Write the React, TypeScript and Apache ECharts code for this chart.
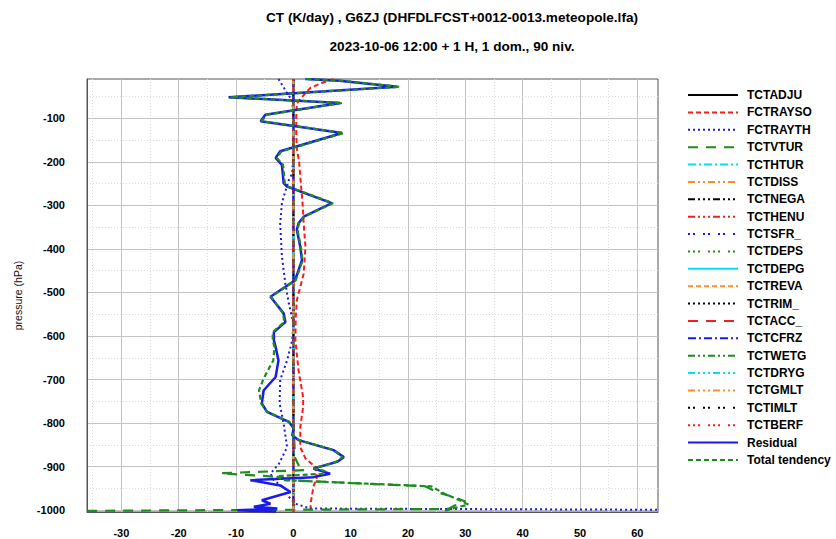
import React, { useEffect, useRef } from "react";
import * as echarts from "echarts";

// ---- tick labels / extents ----
const xMin = -36;
const xMax = 63.6;
const yMin = -1004;
const yMax = -10;

// ---- near-zero process terms (coarse levels) ----
const coarseP = [-10, -100, -200, -300, -400, -500, -600, -700, -800, -900, -950, -1003];
const tctadju = [0, 0, 0, 0, 0, 0, 0, 0, 0, 0, 0, 0];
const tcthtur = [0, 0, 0, 0, 0, 0, 0, 0, 0, 0, 0, 0];
const tctdiss = [0, 0, 0, 0, 0, 0, 0, 0, 0, 0, 0, 0.2];
const tctnega = [0, 0, 0, 0, 0, 0, 0, 0, 0, 0, 0, 0];
const tcthenu = [0, 0, 0, 0, 0, 0, 0, 0, 0, 0, 0, 0];
const tctsfr = [0, 0, 0, 0, 0, 0, 0, 0, 0, 0, 0, 0];
const tctdeps = [0, 0, 0, 0, 0, 0, 0, 0, 0, 0, 0, 0];
const tctdepg = [0, 0, 0, 0, 0, 0, 0, 0, 0, 0, 0, 0];
const tctreva = [0, 0, 0, 0, 0, 0, 0, 0, 0, 0, 0, 0];
const tctrim = [0, 0, 0, 0, 0, 0, 0, 0, 0, 0, 0, 0];
const tctacc = [0, 0, 0, 0, 0, 0, 0, 0, 0, 0, 0, 0];
const tctcfrz = [0, 0, 0, 0, 0, 0, 0, 0, 0, 0, 0, 0];
const tctwetg = [0, 0, 0, 0, 0, 0, 0, 0, 0, 0, 0, 0];
const tctdryg = [0, 0, 0, 0, 0, 0, 0, 0, 0, 0, 0, 0];
const tctgmlt = [0, 0, 0, 0, 0, 0, 0, 0, 0, 0, 0, 0];
const tctimlt = [0, 0, 0, 0, 0, 0, 0, 0, 0, 0, 0, 0];
const tctberf = [0, 0, 0, 0, 0, 0, 0, 0, 0, 0, 0, 0];

// ---- FCTRAYSO (shortwave) ----
const raysoP = [-10, -18, -30, -47, -66, -100, -137, -170, -200, -250, -295, -342, -395, -457, -518, -560, -610, -679, -740, -763, -809, -855, -881, -900, -924, -946, -985, -1003];
const raysoX = [7.0, 5.2, 3.0, 1.8, 0.6, 0.5, 0.5, 0.6, 1.0, 1.3, 1.6, 1.8, 2.1, 1.8, 0.6, 0.4, 0.35, 0.9, 1.7, 1.7, 1.2, 1.2, 2.1, 3.8, 4.1, 3.5, 3.0, 3.0];

// ---- FCTRAYTH (longwave) ----
const raythP = [-10, -40, -60, -96, -181, -227, -242, -280, -295, -342, -418, -480, -525, -571, -610, -656, -701, -755, -801, -855, -893, -916, -931, -954, -969, -985, -996, -1003];
const raythX = [-2.6, -1.2, -0.2, 0, 0, -0.2, -0.8, -1.7, -2.0, -2.3, -2.0, -1.4, -0.8, 0, -0.2, -1.1, -2.3, -2.4, -1.7, -1.1, -2.5, -4.0, -3.4, -1.1, -0.8, 0.35, 3.0, 150];

// ---- TCTVTUR ----
const vturP = [-10, -200, -400, -600, -800, -880, -899, -908, -915, -924, -931, -945, -958, -970, -980, -990, -997, -1003];
const vturX = [0, 0, 0, 0, 0, 0.3, 1, 2, -12.7, -2, -1, 23, 25, 28, 30, 28, 27, -60];

// ---- Residual ----
const residP = [-10, -14, -28, -52, -65, -92, -107, -134, -176, -191, -207, -249, -257, -295, -326, -341, -356, -395, -426, -472, -510, -548, -568, -591, -610, -625, -656, -694, -725, -755, -774, -797, -812, -828, -839, -862, -878, -889, -904, -916, -924, -931, -943, -958, -977, -985, -992, -996, -1000, -1003];
const residX = [2.1, 8.0, 18.1, -11.3, 8.2, -4.9, -5.7, 8.5, -2.3, -3.1, -2.0, -1.7, -1.1, 6.7, 1.8, 0.9, 0.6, 1.2, 1.5, 0.3, -4.0, -1.7, -1.4, -3.4, -3.4, -3.1, -2.6, -3.1, -5.2, -5.5, -4.6, -0.8, 0.05, -0.2, 0.9, 7.0, 8.8, 7.6, 3.5, 6.4, 3.5, -7.5, -2.3, -0.5, -5.5, -4.0, -6.9, -2.8, -9.8, -3.0];

// ---- Total tendency ----
const totP = [-10, -14, -28, -52, -65, -92, -107, -134, -176, -191, -207, -249, -257, -295, -326, -341, -356, -395, -426, -472, -510, -548, -568, -591, -610, -625, -656, -680, -701, -725, -755, -774, -797, -812, -828, -839, -862, -878, -889, -904, -910, -916, -922, -931, -945, -963, -977, -987, -995, -1003];
const totX = [2.3, 8.5, 18.6, -11.0, 8.5, -4.7, -5.5, 8.8, -2.1, -2.9, -1.8, -1.5, -0.9, 6.9, 1.9, 1.0, 0.7, 1.3, 1.6, 0.4, -3.9, -1.8, -1.6, -3.6, -3.6, -3.3, -3.5, -4.5, -5.3, -6.0, -5.6, -4.6, -0.7, 0.1, -0.1, 1.0, 7.0, 8.6, 7.4, 3.6, 5.5, 5.5, -3.0, -1.7, 24, 26.5, 29, 30.5, 28, 26];

const BLACK = "#000000";
const RED = "#ff1a1a";
const BLUE = "#1a1aee";
const GREEN = "#1e8c1e";
const CYAN = "#00e0f0";
const ORANGE = "#ff8c28";

function pairs(p: number[], x: number[]) {
  return p.map((pv, i) => [x[i], pv]);
}

export default function App() {
  const ref = useRef<HTMLDivElement>(null);
  useEffect(() => {
    if (!ref.current) return;
    const chart = echarts.init(ref.current, undefined, { renderer: "svg" });
    const mk = (name: string, p: number[], x: number[], color: string, type: any, width = 2) => ({
      name,
      type: "line",
      data: pairs(p, x),
      showSymbol: false,
      symbol: "none",
      xAxisIndex: 0,
      yAxisIndex: 0,
      lineStyle: { color, type, width },
      itemStyle: { color },
      z: 3,
    });
    const series = [
      mk("TCTADJU", coarseP, tctadju, BLACK, "solid"),
      mk("FCTRAYSO", raysoP, raysoX, RED, [5, 3]),
      mk("FCTRAYTH", raythP, raythX, BLUE, [2, 3]),
      mk("TCTVTUR", vturP, vturX, GREEN, [10, 8], 2.2),
      mk("TCTHTUR", coarseP, tcthtur, CYAN, [8, 3, 2, 3]),
      mk("TCTDISS", coarseP, tctdiss, ORANGE, [7, 3, 2, 3, 2, 3]),
      mk("TCTNEGA", coarseP, tctnega, BLACK, [7, 3, 2, 3, 2, 3, 2, 3]),
      mk("TCTHENU", coarseP, tcthenu, RED, [7, 3, 2, 3, 2, 3, 2, 3]),
      mk("TCTSFR_", coarseP, tctsfr, BLUE, [2, 3, 2, 8]),
      mk("TCTDEPS", coarseP, tctdeps, GREEN, [2, 3, 2, 3, 2, 8]),
      mk("TCTDEPG", coarseP, tctdepg, CYAN, "solid"),
      mk("TCTREVA", coarseP, tctreva, ORANGE, [5, 3]),
      mk("TCTRIM_", coarseP, tctrim, BLACK, [2, 3]),
      mk("TCTACC_", coarseP, tctacc, RED, [10, 8]),
      mk("TCTCFRZ", coarseP, tctcfrz, BLUE, [8, 3, 2, 3]),
      mk("TCTWETG", coarseP, tctwetg, GREEN, [7, 3, 2, 3, 2, 3]),
      mk("TCTDRYG", coarseP, tctdryg, CYAN, [7, 3, 2, 3, 2, 3, 2, 3]),
      mk("TCTGMLT", coarseP, tctgmlt, ORANGE, [7, 3, 2, 3, 2, 3, 2, 3]),
      mk("TCTIMLT", coarseP, tctimlt, BLACK, [2, 3, 2, 8]),
      mk("TCTBERF", coarseP, tctberf, RED, [2, 3, 2, 3, 2, 8]),
      mk("Residual", residP, residX, BLUE, "solid", 2.5),
      mk("Total tendency", totP, totX, GREEN, [5, 3], 2.2),
    ];
    const xFmt = (v: number) => (Math.abs(v % 10) < 1e-6 ? String(v) : "");
    const yFmt = (v: number) => (Math.abs(v % 100) < 1e-6 ? String(v) : "");
    const font = "Liberation Sans, Arial, sans-serif";
    chart.setOption({
      animation: false,
      backgroundColor: "#ffffff",
      textStyle: { fontFamily: font },
      grid: {
        left: 87,
        right: 178,
        top: 79,
        bottom: 27,
        show: true,
        borderColor: "#555555",
        borderWidth: 1,
        backgroundColor: "transparent",
      },
      legend: {
        orient: "vertical",
        left: 682,
        top: 83,
        itemWidth: 50,
        itemHeight: 14,
        itemGap: 3.38,
        itemStyle: { opacity: 0 },
        inactiveColor: "#999",
        textStyle: {
          fontFamily: font,
          fontWeight: "bold",
          fontSize: 12,
          color: "#000",
          lineHeight: 14,
          padding: [0, 0, 0, 4],
        },
        data: series.map((s) => s.name),
      },
      xAxis: [
        {
          type: "value",
          min: xMin,
          max: xMax,
          splitNumber: 10,
          z: 1,
          axisLine: { show: true, onZero: false, lineStyle: { color: "#555555" } },
          axisTick: { show: false },
          axisLabel: { formatter: xFmt, margin: 15, fontSize: 11, fontWeight: "bold", color: "#000", fontFamily: font },
          splitLine: { show: true, showMinLine: false, showMaxLine: false, lineStyle: { color: "#c4c4c4", width: 1, type: "solid" } },
        },
        {
          type: "value",
          min: xMin,
          max: xMax,
          splitNumber: 20,
          z: 0,
          position: "top",
          axisLine: { show: false },
          axisTick: { show: false },
          axisLabel: { show: false },
          splitLine: { show: true, showMinLine: false, showMaxLine: false, lineStyle: { color: "#dcdcdc", width: 1, type: [1, 2] } },
        },
      ],
      yAxis: [
        {
          type: "value",
          min: yMin,
          max: yMax,
          splitNumber: 10,
          z: 1,
          name: "pressure (hPa)",
          nameLocation: "middle",
          nameGap: 64,
          nameTextStyle: { fontSize: 10.5, color: "#111", fontFamily: font },
          axisLine: { show: true, onZero: false, lineStyle: { color: "#555555" } },
          axisTick: { show: false },
          axisLabel: { formatter: yFmt, margin: 22, fontSize: 11, fontWeight: "bold", color: "#000", fontFamily: font },
          splitLine: { show: true, showMinLine: false, showMaxLine: false, lineStyle: { color: "#c4c4c4", width: 1, type: "solid" } },
        },
        {
          type: "value",
          min: yMin,
          max: yMax,
          splitNumber: 20,
          z: 0,
          position: "right",
          axisLine: { show: false },
          axisTick: { show: false },
          axisLabel: { show: false },
          splitLine: { show: true, showMinLine: false, showMaxLine: false, lineStyle: { color: "#dcdcdc", width: 1, type: [1, 2] } },
        },
      ],
      graphic: [
        {
          type: "text",
          x: 452,
          y: 17,
          style: {
            text: "CT (K/day) , G6ZJ (DHFDLFCST+0012-0013.meteopole.lfa)",
            textAlign: "center",
            textVerticalAlign: "middle",
            font: "bold 13.6px Liberation Sans, Arial, sans-serif",
            fill: "#000",
          },
        },
        {
          type: "text",
          x: 452,
          y: 46,
          style: {
            text: "2023-10-06 12:00 + 1 H, 1 dom., 90 niv.",
            textAlign: "center",
            textVerticalAlign: "middle",
            font: "bold 13.6px Liberation Sans, Arial, sans-serif",
            fill: "#000",
          },
        },
      ],
      series,
    });
    return () => chart.dispose();
  }, []);
  return (
    <div
      ref={ref}
      style={{ position: "fixed", left: 0, top: 0, width: 836, height: 539, background: "#fff" }}
    />
  );
}
